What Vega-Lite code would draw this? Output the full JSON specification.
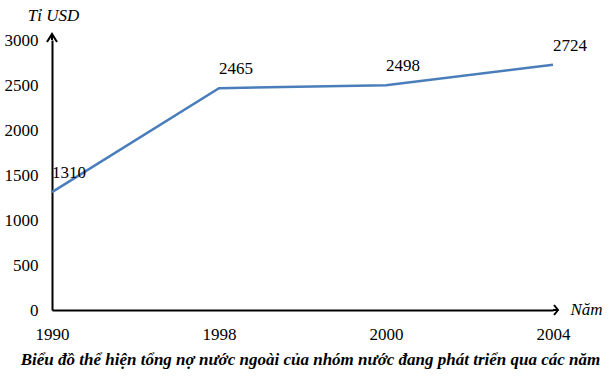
{
  "$schema": "https://vega.github.io/schema/vega-lite/v6.json",
  "width": 501,
  "height": 270,
  "autosize": {"type": "none"},
  "padding": {"left": 52, "top": 40, "right": 62, "bottom": 66},
  "background": "white",
  "config": {"view": {"stroke": null}, "font": "Liberation Serif"},
  "title": {
    "text": "Biểu đồ thể hiện tổng nợ nước ngoài của nhóm nước đang phát triển qua các năm",
    "orient": "bottom",
    "anchor": "middle",
    "font": "Liberation Serif",
    "fontSize": 17,
    "fontStyle": "italic",
    "fontWeight": "bold",
    "color": "black",
    "offset": 10,
    "dx": 8
  },
  "data": {"values": [
    {"year": "1990", "debt": 1310},
    {"year": "1998", "debt": 2465},
    {"year": "2000", "debt": 2498},
    {"year": "2004", "debt": 2724}
  ]},
  "encoding": {
    "x": {
      "field": "year", "type": "ordinal",
      "scale": {"type": "point", "padding": 0},
      "axis": {
        "labelAngle": 0, "ticks": false, "tickSize": 0, "labelPadding": 16,
        "labelFont": "Liberation Serif", "labelFontSize": 17, "labelColor": "black",
        "domainColor": "black", "domainWidth": 2, "grid": false,
        "title": "Năm", "titleFont": "Liberation Serif", "titleFontSize": 17,
        "titleFontStyle": "italic", "titleFontWeight": "normal", "titleColor": "black",
        "titleX": 534, "titleY": -1, "titleAlign": "center", "titleBaseline": "middle", "titleAngle": 0
      }
    },
    "y": {
      "field": "debt", "type": "quantitative",
      "scale": {"domain": [0, 3000], "nice": false},
      "axis": {
        "values": [0, 500, 1000, 1500, 2000, 2500, 3000], "format": "d",
        "ticks": false, "tickSize": 0, "labelPadding": 14, "grid": false,
        "labelFont": "Liberation Serif", "labelFontSize": 17, "labelColor": "black",
        "domainColor": "black", "domainWidth": 2,
        "title": "Tỉ USD", "titleFont": "Liberation Serif", "titleFontSize": 17,
        "titleFontStyle": "italic", "titleFontWeight": "normal", "titleColor": "black",
        "titleAngle": 0, "titleX": 1, "titleY": -25, "titleAlign": "center", "titleBaseline": "middle"
      }
    }
  },
  "layer": [
    {
      "mark": {"type": "line", "color": "#4A7EBB", "strokeWidth": 2.5}
    },
    {
      "mark": {"type": "text", "font": "Liberation Serif", "fontSize": 17, "color": "black", "dx": 17, "dy": -19, "align": "center", "baseline": "middle"},
      "encoding": {"text": {"field": "debt", "type": "quantitative", "format": "d"}}
    },
    {
      "data": {"values": [{"year": "1990", "debt": 3000}]},
      "mark": {"type": "point", "shape": "M-1,0.4 L0,-1.2 L1,0.4 M0,0 L0,-1.2", "size": 100, "filled": false, "stroke": "black", "strokeWidth": 2, "opacity": 1}
    },
    {
      "data": {"values": [{"year": "2004", "debt": 0}]},
      "mark": {"type": "point", "shape": "M0.2,-1 L1,0 L0.2,1 M0,0 L1,0", "size": 100, "filled": false, "stroke": "black", "strokeWidth": 2, "opacity": 1}
    }
  ]
}
